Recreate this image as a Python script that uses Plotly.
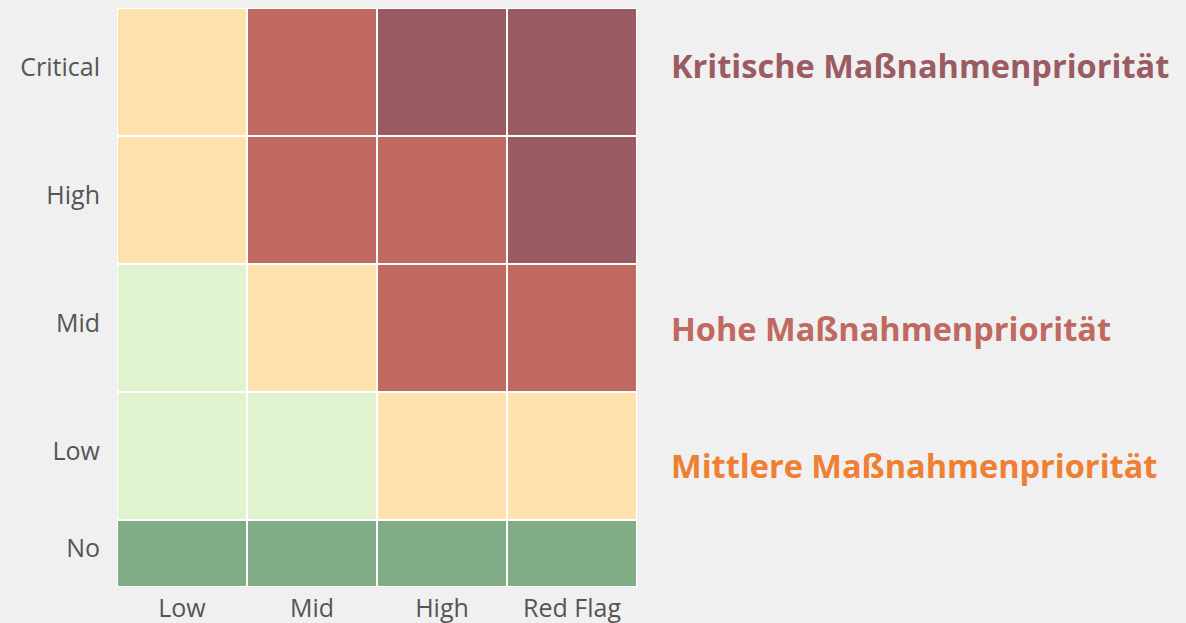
import plotly.graph_objects as go

# Likelihood (columns) and impact (rows, bottom to top)
x_labels = ["Low", "Mid", "High", "Red Flag"]
y_labels = ["No", "Low", "Mid", "High", "Critical"]
# Row edges: the "No" band is about half as tall as the others
y_edges = [0, 0.52, 1.52, 2.52, 3.52, 4.52]

# Priority level per cell: 0 none, 1 low, 2 medium, 3 high, 4 critical
levels = [
    [0, 0, 0, 0],  # No
    [1, 1, 2, 2],  # Low
    [1, 2, 3, 3],  # Mid
    [2, 3, 3, 4],  # High
    [2, 3, 4, 4],  # Critical
]

level_colors = ["#80AD86", "#E2F3D0", "#FEE2AE", "#BF6960", "#9B5B63"]

priority_notes = ["Kritische Maßnahmenpriorität", "Hohe Maßnahmenpriorität",
                  "Mittlere Maßnahmenpriorität"]
note_colors = ["#9B5B63", "#BF6960", "#EE7F33"]
note_y = [4.07, 2.02, 0.95]

# Discrete colour steps
n = len(level_colors)
colorscale = []
for i, c in enumerate(level_colors):
    colorscale.append([i / n, c])
    colorscale.append([(i + 1) / n, c])

x_edges = [i - 0.5 for i in range(len(x_labels) + 1)]
# labels sit slightly above each band's centre
y_ticks = [(y_edges[i] + y_edges[i + 1]) / 2 + 0.04 for i in range(len(y_labels))]

fig = go.Figure(go.Heatmap(
    z=levels,
    x=x_edges,
    y=y_edges,
    colorscale=colorscale,
    zmin=-0.5, zmax=n - 0.5,
    showscale=False,
    xgap=2, ygap=2,
    hoverinfo="skip",
))

for text, color, yy in zip(priority_notes, note_colors, note_y):
    fig.add_annotation(
        text=f"<b>{text}</b>", x=1.062, xref="paper", y=yy, yref="y",
        xanchor="left", yanchor="middle", showarrow=False,
        font=dict(family="Open Sans", size=32.5, color=color),
    )

tick_font = dict(family="Open Sans", size=25, color="#555555")
fig.update_xaxes(
    tickmode="array", tickvals=list(range(len(x_labels))), ticktext=x_labels,
    range=[x_edges[0], x_edges[-1]], showgrid=False, zeroline=False,
    ticks="", ticklabelstandoff=4, automargin=False, tickfont=tick_font,
)
fig.update_yaxes(
    tickmode="array", tickvals=y_ticks, ticktext=y_labels,
    range=[y_edges[0], y_edges[-1]], showgrid=False, zeroline=False,
    ticks="", ticklabelstandoff=16, automargin=False, tickfont=tick_font,
)

fig.update_layout(
    width=1186, height=623,
    margin=dict(l=117, r=549, t=8, b=36),
    paper_bgcolor="#F0F0F0",
    plot_bgcolor="#FFFFFF",
    showlegend=False,
)

fig.write_html("out.html")
